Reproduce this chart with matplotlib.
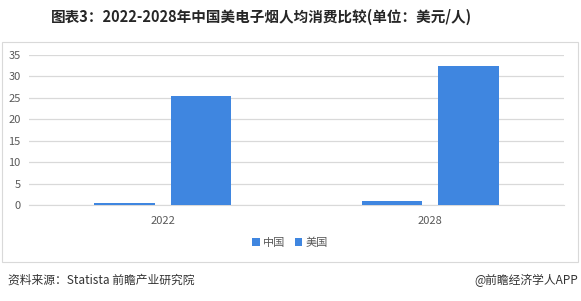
import matplotlib.pyplot as plt
from matplotlib.patches import Rectangle
import numpy as np

plt.rcParams['font.family'] = ['Noto Sans CJK SC', 'DejaVu Sans']

years = ['2022', '2028']
china = [0.5, 0.9]
usa = [25.5, 32.4]
yticks = [0, 5, 10, 15, 20, 25, 30, 35]

blue = '#3F86E0'
grey = '#595959'

fig = plt.figure(figsize=(5.81, 3.01), dpi=100)

# outer frame around plot area
fig.patches.append(Rectangle((2 / 581, 1 - 262 / 301), 576 / 581, 220 / 301,
                             transform=fig.transFigure, fill=False,
                             edgecolor='#D9D9D9', linewidth=0.8))

ax = fig.add_axes([29 / 581, 96 / 301, 535 / 581, 150 / 301])
x = np.arange(len(years))
w = 0.225
ax.bar(x - 0.143, china, w, color=blue, label='中国', zorder=3)
ax.bar(x + 0.143, usa, w, color=blue, label='美国', zorder=3)

ax.set_xlim(-0.5, 1.5)
ax.set_ylim(0, 35)
ax.set_yticks(yticks)
ax.set_xticks(x)
ax.set_xticklabels(years)
ax.grid(axis='y', color='#D9D9D9', linewidth=0.9, zorder=0)
for s in ['top', 'right', 'left']:
    ax.spines[s].set_visible(False)
ax.spines['bottom'].set_color('#D9D9D9')
ax.tick_params(length=0, labelsize=8, colors=grey, pad=8)
ax.tick_params(axis='y', pad=6)

ax.legend(loc='center', bbox_to_anchor=(0.488, -0.25), ncol=2, frameon=False,
          fontsize=8, handlelength=0.7, handleheight=0.7, handletextpad=0.3,
          columnspacing=0.8, labelcolor=grey)

fig.text(0.45, 1 - 17 / 301, '图表3：2022-2028年中国美电子烟人均消费比较(单位：美元/人)',
         ha='center', va='center', fontsize=10.5, fontweight='bold', color='#262626')
fig.text(8 / 581, 1 - 280 / 301, '资料来源：Statista 前瞻产业研究院',
         ha='left', va='center', fontsize=8.5, color='#333333')
fig.text(578 / 581, 1 - 280 / 301, '@前瞻经济学人APP',
         ha='right', va='center', fontsize=8.5, color='#333333')

plt.savefig('out.png', dpi=100)
